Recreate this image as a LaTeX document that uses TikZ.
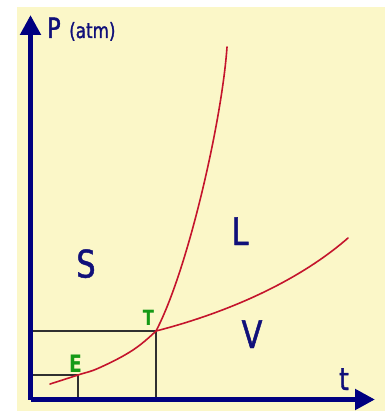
\documentclass[tikz,border=0pt]{standalone}
\usepackage{fontspec}
\setmainfont{DejaVu Sans}
\newfontfamily\labfont[FakeStretch=0.8,FakeBold=1.2]{DejaVu Sans}
\newfontfamily\labfontb[FakeStretch=0.78]{DejaVu Sans Bold}
\usetikzlibrary{arrows.meta}
\definecolor{bgyellow}{HTML}{FBF7C8}
\definecolor{axisblue}{HTML}{000080}
\definecolor{textblue}{HTML}{10107A}
\definecolor{curvered}{HTML}{C4142C}
\definecolor{labgreen}{HTML}{169A16}
\definecolor{refgray}{HTML}{303030}
\tikzset{
  axisline/.style={draw=axisblue, line width=5pt, -{Triangle[length=20pt,width=20pt]}},
  phasecurve/.style={draw=curvered, line width=1.6pt, line cap=round},
  refline/.style={draw=refgray, line width=1.4pt},
  region/.style={text=textblue, font=\labfont\fontsize{38}{38}\selectfont, inner sep=0pt},
  pointlab/.style={text=labgreen, font=\labfontb\fontsize{21}{21}\selectfont, inner sep=0pt},
}
\begin{document}
\begin{tikzpicture}[x=1pt,y=-1pt]
\useasboundingbox (0,0) rectangle (385,411);
\fill[white] (0,0) rectangle (385,411);
\fill[bgyellow] (17,7) rectangle (385,411);
% named points
\coordinate (O) at (30.5,399.5);
\coordinate (Ptop) at (30.5,15);
\coordinate (Tend) at (375,399.5);
\coordinate (T) at (156,331);
\coordinate (E) at (78,375);
\coordinate (TL) at (33,331);
\coordinate (TB) at (156,397);
\coordinate (EL) at (33,375);
\coordinate (EB) at (78,397);
\coordinate (Sstart) at (50,384);
\coordinate (Fend) at (227,47);
\coordinate (Vend) at (348,238);
% reference lines
\draw[refline] (TL) -- (T) -- (TB);
\draw[refline] (EL) -- (E) -- (EB);
% curves
\draw[phasecurve] plot[smooth, tension=0.7] coordinates {(Sstart) (E) (100,367.5) (133,350) (T)};
\draw[phasecurve] (T) .. controls (188,270) and (222,120) .. (Fend);
\draw[phasecurve] (T) .. controls (230,312) and (300,280) .. (Vend);
% axes
\draw[axisline] (O) -- (Ptop);
\draw[axisline] (O) -- (Tend);
% labels
\node[region, font=\labfont\fontsize{28}{28}\selectfont, anchor=base west] (plab) at (47,38) {P};
\node[region, font=\labfont\fontsize{21}{21}\selectfont, anchor=base west] (atm) at (69,38) {(atm)};
\node[region, font=\labfont\fontsize{31}{31}\selectfont, anchor=base] (tlab) at (344,390) {t};
\node[region, anchor=base] (S) at (86,277.5) {S};
\node[region, anchor=base] (L) at (240,245) {L};
\node[region, anchor=base] (V) at (252,348) {V};
\node[pointlab, anchor=base] (Tlab) at (148.5,325) {T};
\node[pointlab, font=\labfontb\fontsize{24}{24}\selectfont, anchor=base] (Elab) at (75.5,372) {E};
\end{tikzpicture}
\end{document}
